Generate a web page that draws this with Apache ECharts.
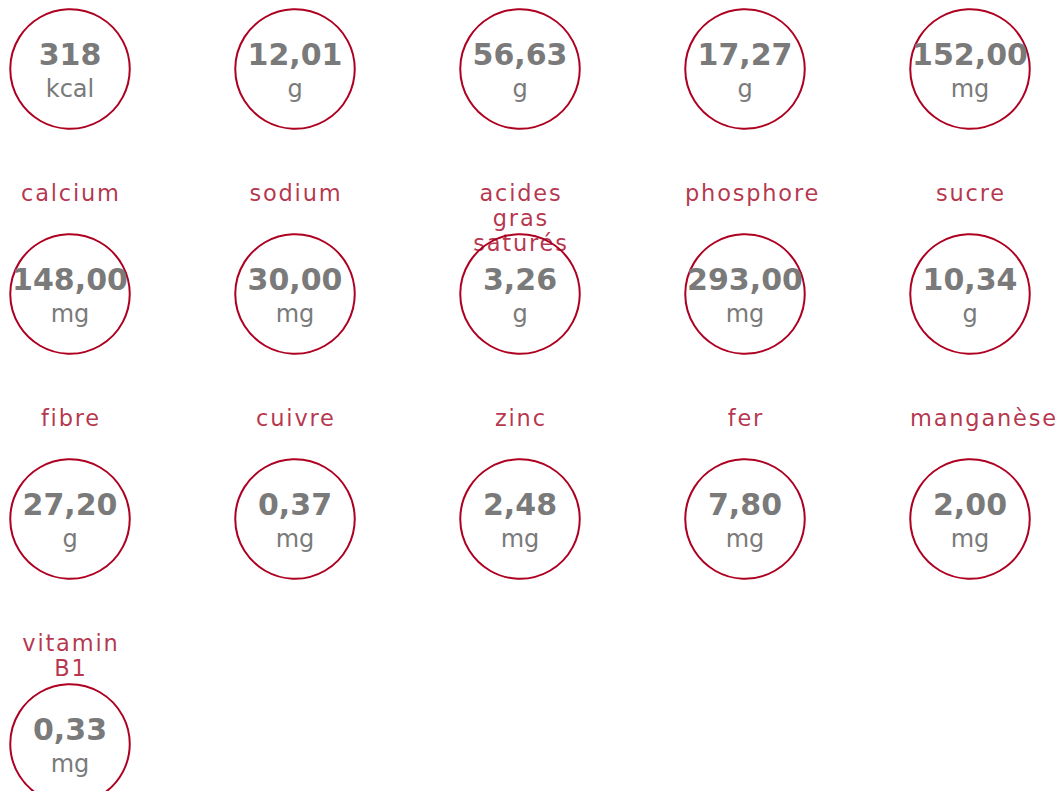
<!DOCTYPE html>
<html>
<head>
<meta charset="utf-8">
<script src="https://cdn.jsdelivr.net/npm/echarts@6/dist/echarts.min.js"></script>
<style>html,body{margin:0;padding:0;background:#fff}#c{width:1061px;height:791px}</style>
</head>
<body>
<div id="c"></div>
<script>
const names = ['', '', '', '', '', 'calcium', 'sodium', 'acides\ngras\nsaturés', 'phosphore', 'sucre', 'fibre', 'cuivre', 'zinc', 'fer', 'manganèse', 'vitamin\nB1'];
const values = [318, 12.01, 56.63, 17.27, 152.00, 148.00, 30.00, 3.26, 293.00, 10.34, 27.20, 0.37, 2.48, 7.80, 2.00, 0.33];
const units = ['kcal', 'g', 'g', 'g', 'mg', 'mg', 'mg', 'g', 'mg', 'g', 'g', 'mg', 'mg', 'mg', 'mg', 'mg'];
const columns = 5;

const FONT = 'DejaVu Sans';
const RED = '#ae0021';
const NAME_RED = '#a3001d';
const GREY = '#7a7a7a';
const NAME_SIZE = 22.5;
const NAME_SPACING = 1.8;
const BOX = 120;

function fmt(v, u) {
  const d = u === 'kcal' ? 0 : 2;
  return v.toFixed(d).replace('.', ',');
}

const mctx = document.createElement('canvas').getContext('2d');
mctx.font = NAME_SIZE + 'px "' + FONT + '"';
function nameWidth(s) {
  return Math.max(0, ...s.split('\n').map(l => mctx.measureText(l).width + NAME_SPACING * Math.max(0, [...l].length - 1)));
}

const pts = values.map((v, i) => [i % columns, Math.floor(i / columns), i]);
const namePts = pts.map(p => {
  const tooWide = nameWidth(names[p[2]]) > BOX;
  return {
    value: p,
    label: tooWide ? {position: [0, -53.5], align: 'left'} : {position: [BOX / 2, -53.5], align: 'center'}
  };
});

const chart = echarts.init(document.getElementById('c'), null, {renderer: 'svg'});
chart.setOption({
  animation: false,
  backgroundColor: '#ffffff',
  grid: {left: 70, top: 69, width: 900, height: 675, containLabel: false},
  xAxis: {type: 'value', min: 0, max: 4, show: false},
  yAxis: {type: 'value', min: 0, max: 3, inverse: true, show: false},
  series: [
    {
      type: 'scatter',
      clip: false,
      silent: true,
      symbol: 'circle',
      symbolSize: 119.5,
      z: 2,
      itemStyle: {color: '#ffffff', borderColor: RED, borderWidth: 2, opacity: 1},
      label: {
        show: true,
        position: 'inside',
        offset: [0, 2.25],
        formatter: p => '{v|' + fmt(values[p.data[2]], units[p.data[2]]) + '}\n{u|' + units[p.data[2]] + '}',
        rich: {
          v: {fontFamily: FONT, fontWeight: 'bold', fontSize: 30, color: GREY, lineHeight: 34.5, align: 'center'},
          u: {fontFamily: FONT, fontSize: 24, color: GREY, lineHeight: 34.5, align: 'center'}
        }
      },
      data: pts
    },
    {
      type: 'scatter',
      clip: false,
      silent: true,
      symbol: 'circle',
      symbolSize: BOX,
      z: 3,
      itemStyle: {color: 'rgba(0,0,0,0)', borderWidth: 0},
      label: {
        show: true,
        verticalAlign: 'top',
        fontFamily: FONT,
        fontSize: NAME_SIZE,
        lineHeight: 25,
        color: NAME_RED,
        formatter: p => names[p.value[2]]
      },
      data: namePts
    }
  ]
});

// names in the reference are drawn with wider letter spacing
function spaceNames() {
  document.querySelectorAll('#c text').forEach(t => {
    const f = (t.getAttribute('fill') || t.style.fill || '').toLowerCase();
    if (f.indexOf('a3001d') >= 0 || f.indexOf('163,0,29') >= 0 || f.indexOf('163, 0, 29') >= 0) {
      t.setAttribute('letter-spacing', String(NAME_SPACING));
      t.style.letterSpacing = NAME_SPACING + 'px';
      const anchor = t.getAttribute('text-anchor') || t.style.textAnchor || '';
      if (!t.dataset.shifted && anchor === 'middle') {
        const x = parseFloat(t.getAttribute('x') || '0');
        t.setAttribute('x', String(x + NAME_SPACING / 2));
      }
      t.dataset.shifted = '1';
    }
  });
}
spaceNames();
chart.on('finished', spaceNames);
</script>
</body>
</html>
